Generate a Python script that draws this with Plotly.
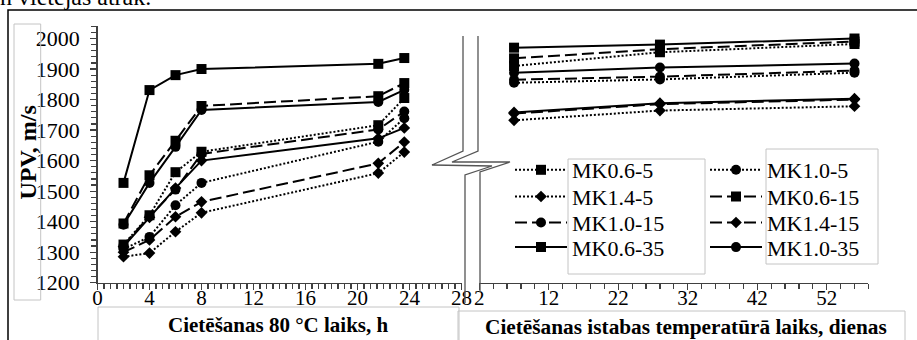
import plotly.graph_objects as go

W, H = 917, 340


def px_x(p):
    return p / W


def px_y(p):
    return 1 - p / H


# Curing time at 80 °C (h) and at room temperature (days)
hours = [2, 4, 6, 8, 21.6, 23.6]
days = [7, 28, 56]

# UPV, m/s while curing at 80 °C
mk06_5_h = [1325, 1421, 1562, 1629, 1716, 1805]
mk10_5_h = [1310, 1350, 1454, 1527, 1662, 1739]
mk14_5_h = [1285, 1297, 1367, 1429, 1559, 1628]
mk06_15_h = [1394, 1552, 1665, 1779, 1811, 1854]
mk10_15_h = [1322, 1418, 1505, 1622, 1702, 1761]
mk14_15_h = [1300, 1340, 1416, 1465, 1591, 1661]
mk06_35_h = [1527, 1831, 1880, 1900, 1917, 1936]
mk10_35_h = [1390, 1527, 1645, 1766, 1792, 1832]
mk14_35_h = [1318, 1414, 1510, 1600, 1673, 1707]

# UPV, m/s while curing at room temperature
mk06_5_d = [1910, 1955, 1982]
mk10_5_d = [1855, 1866, 1888]
mk14_5_d = [1732, 1764, 1778]
mk06_15_d = [1935, 1965, 1990]
mk10_15_d = [1865, 1875, 1895]
mk14_15_d = [1754, 1785, 1800]
mk06_35_d = [1970, 1980, 2000]
mk10_35_d = [1888, 1905, 1918]
mk14_35_d = [1758, 1788, 1803]

names = ["MK0.6-5", "MK1.0-5", "MK1.4-5", "MK0.6-15", "MK1.0-15",
         "MK1.4-15", "MK0.6-35", "MK1.0-35", "MK1.4-35"]
values_h = [mk06_5_h, mk10_5_h, mk14_5_h, mk06_15_h, mk10_15_h,
            mk14_15_h, mk06_35_h, mk10_35_h, mk14_35_h]
values_d = [mk06_5_d, mk10_5_d, mk14_5_d, mk06_15_d, mk10_15_d,
            mk14_15_d, mk06_35_d, mk10_35_d, mk14_35_d]

SOLID, DASH, DOT = "solid", "12px,5px", "2px,2px"
symbol_of = {"0.6": ("square", 10), "1.0": ("circle", 10), "1.4": ("diamond", 9)}
dash_of = {"5": DOT, "15": DASH, "35": SOLID}

# Legend laid out in two columns of four rows; one legend box per entry
legend_rows = [170, 196.7, 222.7, 247.3]
legend_cols = [510, 705]
legend_slot = {"MK0.6-5": (0, 0), "MK1.0-5": (1, 0),
               "MK1.4-5": (0, 1), "MK0.6-15": (1, 1),
               "MK1.0-15": (0, 2), "MK1.4-15": (1, 2),
               "MK0.6-35": (0, 3), "MK1.0-35": (1, 3)}

SERIF = "Liberation Serif"
AX = "#404040"

fig = go.Figure()
legend_ids = {}
for i, name in enumerate(n for n in names if n in legend_slot):
    legend_ids[name] = "legend" if i == 0 else "legend%d" % (i + 1)

for name, yh, yd in zip(names, values_h, values_d):
    mix, cure = name[2:].split("-")
    sym, size = symbol_of[mix]
    line = dict(color="black", width=2, dash=dash_of[cure])
    marker = dict(symbol=sym, size=size, color="black")
    in_legend = name in legend_slot
    fig.add_trace(go.Scatter(
        x=hours, y=yh, mode="lines+markers", name=name, line=line,
        marker=marker, xaxis="x", yaxis="y", showlegend=in_legend,
        legend=legend_ids.get(name, "legend"), cliponaxis=False))
    fig.add_trace(go.Scatter(
        x=days, y=yd, mode="lines+markers", name=name, line=line,
        marker=marker, xaxis="x2", yaxis="y2", showlegend=False,
        cliponaxis=False))

x1_dom = [px_x(97.5), px_x(461.5)]
x2_dom = [px_x(479.3), px_x(868.4)]
y_dom = [px_y(282.7), px_y(26.3)]
y_rng = [1200, 2040]

tickfont = dict(family=SERIF, size=21, color="black")


def xaxis(dom, rng, t0, dt, mdt, anchor, inside=False, over=None):
    d = dict(domain=dom, range=rng, tick0=t0, dtick=dt, tickmode="linear",
             ticks="inside" if inside else "outside", ticklen=6, tickwidth=1.2,
             tickcolor=AX, showgrid=False, zeroline=False, automargin=False,
             anchor=anchor,
             minor=dict(ticks="inside" if inside else "outside", tick0=t0,
                        dtick=mdt, ticklen=5, tickwidth=1.2, tickcolor=AX,
                        showgrid=False),
             fixedrange=True)
    if inside:
        d.update(showticklabels=False, showline=False)
    else:
        d.update(showline=True, linecolor=AX, linewidth=1.3, tickfont=tickfont,
                 ticklabelstandoff=-10)
    if over:
        d.update(overlaying=over)
    return d


layout = dict(
    width=W, height=H,
    margin=dict(l=0, r=0, t=0, b=0, pad=0, autoexpand=False),
    paper_bgcolor="white", plot_bgcolor="white",
    xaxis=xaxis(x1_dom, [0, 28], 0, 4, 0.5, "y"),
    xaxis2=xaxis(x2_dom, [2, 58], 2, 10, 2, "y2"),
    xaxis3=xaxis(x1_dom, [0, 28], 0, 4, 0.5, "y", inside=True, over="x"),
    xaxis4=xaxis(x2_dom, [2, 58], 2, 10, 2, "y2", inside=True, over="x2"),
    yaxis=dict(domain=y_dom, range=y_rng, tick0=1200, dtick=100,
               tickmode="linear", ticks="outside", ticklen=6, tickwidth=1.2,
               tickcolor=AX, showline=True, linecolor=AX, linewidth=1.3,
               showgrid=False, zeroline=False, anchor="x", automargin=False,
               tickfont=dict(family=SERIF, size=22, color="black"),
               ticklabelstandoff=6,
               minor=dict(ticks="outside", dtick=20, ticklen=5, tickwidth=1.2,
                          tickcolor=AX, showgrid=False),
               fixedrange=True),
    yaxis3=dict(domain=y_dom, range=y_rng, overlaying="y", anchor="x",
                side="left", tick0=1200, dtick=100, tickmode="linear",
                ticks="inside", ticklen=6, tickwidth=1.2, tickcolor=AX,
                showticklabels=False, showline=False, showgrid=False,
                zeroline=False, automargin=False,
                minor=dict(ticks="inside", dtick=20, ticklen=5, tickwidth=1.2,
                           tickcolor=AX, showgrid=False),
                fixedrange=True),
    yaxis2=dict(domain=y_dom, range=y_rng, anchor="x2", visible=False,
                automargin=False, fixedrange=True),
    showlegend=True,
)
for name, lid in legend_ids.items():
    col, row = legend_slot[name]
    layout[lid] = dict(x=px_x(legend_cols[col]), y=px_y(legend_rows[row]),
                       xanchor="left", yanchor="middle",
                       bgcolor="rgba(0,0,0,0)", borderwidth=0, itemwidth=52,
                       font=dict(family=SERIF, size=22, color="black"))
fig.update_layout(**layout)

GRAY_BOX = "#c4c4c4"


def rect(x0, y0, x1, y1, color, width):
    return dict(type="rect", xref="paper", yref="paper",
                x0=px_x(x0), x1=px_x(x1), y0=px_y(y1), y1=px_y(y0),
                line=dict(color=color, width=width), fillcolor="rgba(0,0,0,0)",
                layer="above")


def polyline(points, color, width):
    path = "M " + " L ".join("%.5f,%.5f" % (px_x(a), px_y(b)) for a, b in points)
    return dict(type="path", xref="paper", yref="paper", path=path,
                line=dict(color=color, width=width), layer="above")


shapes = [
    rect(8, 10, 935, 360, "black", 1.5),          # chart frame
    rect(14, 24, 40.7, 300, GRAY_BOX, 1),         # value-axis title box
    rect(98, 307, 459, 360, GRAY_BOX, 1),         # hours title box
    rect(458, 311, 905, 360, GRAY_BOX, 1),        # days title box
    rect(568, 159, 705, 274, GRAY_BOX, 1),        # legend text box, left
    rect(766, 149, 878, 264, GRAY_BOX, 1),        # legend text box, right
    # axis break between the two time scales
    polyline([(463, 36), (463, 151), (432, 165), (492, 166), (465, 175),
              (465, 303)], "#555555", 1.3),
    polyline([(478, 36), (478, 151), (452, 162), (510, 162), (480, 172),
              (480, 292)], "#555555", 1.3),
]
fig.update_layout(shapes=shapes)

annotations = [
    dict(text="<b>UPV, m/s</b>", x=px_x(27.5), y=px_y(153), textangle=-90,
         font=dict(family=SERIF, size=24, color="black")),
    dict(text="<b>Cietēšanas 80 °C laiks, h</b>", x=px_x(278), y=px_y(325),
         font=dict(family=SERIF, size=21, color="black")),
    dict(text="<b>Cietēšanas istabas temperatūrā laiks, dienas</b>",
         x=px_x(685.5), y=px_y(327),
         font=dict(family=SERIF, size=21.3, color="black")),
    dict(text="n vietējas ātrāk.", x=px_x(-2), y=px_y(-3), xanchor="left",
         font=dict(family=SERIF, size=24, color="black")),
]
for a in annotations:
    a.update(xref="paper", yref="paper", showarrow=False)
    a.setdefault("xanchor", "center")
    a.setdefault("yanchor", "middle")
fig.update_layout(annotations=annotations)

fig.write_html("out.html", config={"displayModeBar": False, "staticPlot": True})
